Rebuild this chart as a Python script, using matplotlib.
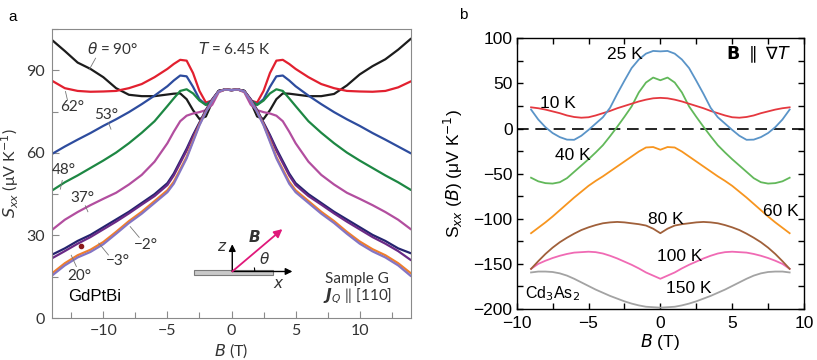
import numpy as np
import matplotlib
matplotlib.use("Agg")
import matplotlib.pyplot as plt
from matplotlib.patches import Rectangle, Arc
from matplotlib.ticker import MultipleLocator

# ---------------- panel a: GdPtBi, S_xx vs B at T = 6.45 K ----------------
B_a = [-14, -13, -12, -11, -10, -9, -8, -7, -6, -5, -4.5, -4, -3.5, -3, -2.5, -2,
       -1.5, -1, -0.5, 0, 0.5, 1, 1.5, 2, 2.5, 3, 3.5, 4, 4.5, 5, 6, 7, 8, 9,
       10, 11, 12, 13, 14]

s_90 = [101, 97, 92.8, 90.5, 87.5, 83.5, 81.1, 80.6, 80.6, 81.2, 81.5, 81.6, 79.5,
        75.5, 72.3, 73.2, 78.5, 82.5, 83, 82.8, 83, 82.5, 78.5, 73.2, 72.3, 75.5,
        79.5, 81.6, 81.5, 81.2, 80.6, 80.6, 81.4, 84.5, 88.5, 91.5, 94, 97.5, 101.5]
s_62 = [86.2, 83.5, 82.5, 82.2, 82.3, 82.5, 83.5, 85, 87.5, 90.5, 92.3, 93.8, 93.5,
        89, 82.5, 78.3, 79, 82.5, 83, 82.8, 83, 82.5, 79, 78.3, 82.5, 89, 93.5,
        93.8, 92.3, 90.5, 87.5, 85, 83.5, 82.5, 82.3, 82.2, 82.5, 83.8, 86]
s_53 = [59.6, 62.3, 64.8, 67.2, 69.8, 72.2, 74.8, 77.7, 80.8, 84.2, 86.3, 88.1, 87.8,
        84, 79.5, 77.5, 79.2, 82.5, 83, 82.8, 83, 82.5, 79.2, 77.5, 79.5, 84,
        87.8, 88.1, 86.3, 84.2, 80.8, 77.7, 74.8, 72.2, 69.8, 67.2, 64.8, 62.3, 59.8]
s_48 = [46.3, 49.3, 51.8, 54.5, 57.2, 60.1, 63.5, 67.3, 71.5, 77, 79.8, 82.5, 83.1,
        81.6, 79, 77.4, 79, 82.5, 83, 82.8, 83, 82.5, 79, 77.4, 79, 81.6, 83.1,
        82.5, 79.8, 77, 71.5, 67.3, 63.5, 60.1, 57.2, 54.5, 51.8, 49.3, 46.5]
s_37 = [32, 35.7, 38.5, 41, 43.3, 45.5, 48.5, 52, 56.8, 63.5, 67.7, 71.5, 73.5,
        74.3, 74.8, 75.5, 77.5, 82, 83, 82.8, 83, 82, 77.5, 75.5, 74.8, 74.3, 73.5,
        71.5, 67.7, 63.5, 56.8, 52, 48.5, 45.5, 43.3, 41, 38.5, 35.7, 32.2]
s_20 = [23, 25.3, 28, 30.2, 33, 35.8, 38.6, 41.8, 45, 49, 52.5, 57, 61.5, 66.5,
        71, 75.6, 79.5, 82.5, 83, 82.8, 83, 82.5, 79.5, 75.6, 71, 66.5, 61.5, 57,
        52.5, 49, 45, 41.8, 38.6, 35.8, 33, 30.2, 28, 25.3, 23.5]
s_10 = [21.7, 24.3, 27, 29.4, 32.2, 35, 38, 41.2, 44.3, 48.3, 51.8, 56.3, 60.8, 66,
        70.6, 75.3, 79.3, 82.4, 83, 82.8, 83, 82.4, 79.3, 75.3, 70.6, 66, 60.8,
        56.3, 51.8, 48.3, 44.3, 41.2, 38, 35, 32.2, 29.4, 27, 24.3, 21]
s_m2 = [16.2, 19.9, 22.8, 24.8, 27.6, 31.3, 35.2, 38.6, 42.5, 46.4, 49.5, 54, 58.5,
        64.5, 70.3, 75, 79, 82.3, 83, 82.8, 83, 82.3, 79, 75, 70.3, 64.5, 58.5,
        54, 49.5, 46.4, 42.5, 38.6, 35.2, 31.3, 27.8, 25, 22.8, 19.9, 16.2]
s_m3 = [15.4, 19.1, 22, 24, 26.8, 30.6, 34.5, 37.9, 41.8, 45.7, 48.8, 53.4, 58,
        64, 70, 74.8, 78.9, 82.3, 83, 82.8, 83, 82.3, 78.9, 74.8, 70, 64, 58, 53.4,
        48.8, 45.7, 41.8, 37.9, 34.5, 30.6, 27, 24.2, 22, 19.1, 15.2]

curves_a = [
    (s_90, "#1c1c1c"),
    (s_62, "#e2202f"),
    (s_53, "#2d4c9e"),
    (s_48, "#1d8743"),
    (s_37, "#b24e9f"),
    (s_20, "#25246f"),
    (s_10, "#6a2a86"),
    (s_m2, "#f07e2c"),
    (s_m3, "#8475c4"),
]

# ---------------- panel b: Cd3As2, S_xx(B) at several T ----------------
B_b = [-9, -8.5, -8, -7.5, -7, -6.5, -6, -5.5, -5, -4.5, -4, -3.5, -3, -2.5, -2,
       -1.5, -1, -0.5, 0, 0.5, 1, 1.5, 2, 2.5, 3, 3.5, 4, 4.5, 5, 5.5, 6, 6.5,
       7, 7.5, 8, 8.5, 9]

s_10K = [23.5, 22.5, 21, 19, 17, 14.5, 12.8, 12, 12.5, 14.5, 17, 19.5, 22.5, 25,
         27.5, 30, 32, 33.5, 34, 33.5, 32, 30, 27.5, 25, 22.5, 19.5, 17, 14.5,
         12.5, 12, 12.8, 14.5, 17, 19, 21, 22.5, 23.5]
s_25K = [21, 10, 1.5, -5, -9.5, -12.3, -12.5, -8, -1.5, 5.5, 12.5, 23, 38.5, 53,
         67, 76.5, 83, 86, 85.5, 86, 83, 76.5, 67, 53, 38.5, 23, 12.5, 5.5, -1.5,
         -8, -12.5, -12.3, -9.5, -5, 1.5, 10, 21]
s_40K = [-54.5, -58.5, -60.5, -61, -59.5, -55, -48, -41, -34, -26.5, -18.5, -8.5,
         2, 13, 24.5, 40, 51, 56.5, 53.5, 56.5, 51, 40, 24.5, 13, 2, -8.5, -18.5,
         -26.5, -34, -41, -48, -55, -59.5, -61, -60.5, -58.5, -54.5]
s_60K = [-116, -110, -104, -97.5, -90.5, -83.5, -76.5, -70, -63.5, -58, -53, -47.5,
         -42, -36.5, -31, -25.5, -21, -20.5, -23.5, -20.5, -21, -25.5, -31, -36.5,
         -42, -47.5, -53, -58, -63.5, -70, -76.5, -83.5, -90.5, -97.5, -104, -110,
         -116]
s_80K = [-155.5, -147, -139, -132, -126, -121, -116.5, -112.5, -109.5, -107, -105,
         -104, -103.5, -104, -105, -106, -107.5, -111, -116, -111, -107.5, -106,
         -105, -104, -103.5, -104, -105, -107, -109.5, -112.5, -116.5, -121, -126,
         -132, -139, -147, -155.5]
s_100K = [-155.5, -150, -146.5, -143.5, -141, -139, -137.5, -137, -136.5, -137,
          -138.5, -141, -144, -147.5, -151, -155, -159.5, -163, -166.5, -163,
          -159.5, -155, -151, -147.5, -144, -141, -138.5, -137, -136.5, -137,
          -137.5, -139, -141, -143.5, -146.5, -150, -155.5]
s_150K = [-159.5, -158.5, -158.5, -159, -160.5, -163, -166.5, -170.5, -174.5,
          -178.5, -182, -185.5, -188.5, -191.5, -194, -196, -197.5, -198, -198.5,
          -198, -197.5, -196, -194, -191.5, -188.5, -185.5, -182, -178.5, -174.5,
          -170.5, -166.5, -163, -160.5, -159, -158.5, -158.5, -159.5]

curves_b = [
    (s_150K, "#a3a3a3"),
    (s_100K, "#f06ab4"),
    (s_80K, "#a0603a"),
    (s_60K, "#f7951f"),
    (s_40K, "#62b85a"),
    (s_10K, "#e5383f"),
    (s_25K, "#5a94c8"),
]

FA = ["Lato", "DejaVu Sans"]
FB = ["Liberation Sans", "DejaVu Sans"]
GREY = "#8a8a8a"
TXT = "#333333"

fig = plt.figure(figsize=(8.17, 3.6), dpi=100)
fig.patch.set_facecolor("white")

# ---------------- panel a ----------------
ax = fig.add_axes([52 / 817, 1 - 318 / 360, (411 - 52) / 817, (318 - 29) / 360])
for vals, col in curves_a:
    ax.plot(B_a, vals, color=col, lw=1.6, solid_capstyle="round")

ax.set_xlim(-14, 14)
ax.set_ylim(0, 105)
ax.xaxis.set_major_locator(MultipleLocator(5))
ax.xaxis.set_minor_locator(MultipleLocator(2.5))
ax.yaxis.set_major_locator(MultipleLocator(30))
ax.yaxis.set_minor_locator(MultipleLocator(15))
ax.tick_params(which="both", direction="in", color=GREY, width=0.8,
               labelsize=11.5, labelcolor=TXT)
ax.tick_params(axis="x", pad=4.5)
ax.tick_params(axis="y", pad=5)
ax.tick_params(which="major", length=5)
ax.tick_params(which="minor", length=4)
for s in ax.spines.values():
    s.set_color(GREY)
    s.set_linewidth(0.8)
for lab in ax.get_xticklabels() + ax.get_yticklabels():
    lab.set_family(FA)
ax.set_xlabel("$B$ (T)", fontsize=11.5, color=TXT, family=FA, labelpad=2)
ax.set_ylabel(r"$S_{xx}$ (μV K$^{-1}$)", fontsize=11.5, color=TXT, family=FA,
              labelpad=4)

lbl = dict(fontsize=11, color=TXT, family=FA, ha="center", va="center")
ax.text(-9.3, 97.7, r"$\theta$ = 90°", **lbl)
ax.text(0.2, 97.7, r"$T$ = 6.45 K", **lbl)
ax.text(-12.4, 76.6, "62°", **lbl)
ax.text(-9.8, 73.8, "53°", **lbl)
ax.text(-13.1, 53.6, "48°", **lbl)
ax.text(-11.65, 43.5, "37°", **lbl)
ax.text(-11.9, 15.3, "20°", **lbl)
ax.text(-8.9, 20.7, "\u22123°", **lbl)
ax.text(-6.7, 26.5, "\u22122°", **lbl)
leaders = [((-10.6, 94.4), (-11.1, 90.2)), ((-12.8, 79.3), (-12.95, 82.3)),
           ((-9.6, 71.0), (-9.4, 68.6)), ((-13.2, 50.0), (-13.35, 46.8)),
           ((-11.4, 40.8), (-11.2, 38.6)), ((-12.1, 18.7), (-12.5, 22.8)),
           ((-9.6, 22.9), (-10.35, 27.2)), ((-7.2, 29.3), (-7.9, 33.2))]
for (x0, y0), (x1, y1) in leaders:
    ax.plot([x0, x1], [y0, y1], color="#777777", lw=0.6)
ax.plot(-11.7, 26.2, marker="o", ms=3, color="#8b1a1a")

ax.text(-10.7, 7.8, "GdPtBi", fontsize=12, color="black", family=FB,
        ha="center", va="center")
ax.text(9.8, 14.1, "Sample G", **lbl)
ax.text(9.8, 7.8, r"$\boldsymbol{J}_Q$ || [110]", **lbl)

# inset sketch: field direction relative to the sample
ax.add_patch(Rectangle((-2.93, 15.5), 6.17, 1.8, facecolor="#c9c9c9",
                       edgecolor="#7a7a7a", lw=0.8, zorder=5))
ax.annotate("", xy=(4.75, 16.9), xytext=(0.06, 16.9), zorder=6,
            arrowprops=dict(arrowstyle="-|>", color="black", lw=1.0,
                            mutation_scale=10, shrinkA=0, shrinkB=0))
ax.annotate("", xy=(0.06, 26.8), xytext=(0.06, 16.9), zorder=6,
            arrowprops=dict(arrowstyle="-|>", color="black", lw=1.0,
                            mutation_scale=10, shrinkA=0, shrinkB=0))
ax.annotate("", xy=(3.97, 32.3), xytext=(0.06, 16.9), zorder=6,
            arrowprops=dict(arrowstyle="-|>", color="#e0187a", lw=1.3,
                            mutation_scale=12, shrinkA=0, shrinkB=0))
ax.add_patch(Arc((0.06, 16.9), 2 * 1.75, 2 * 8.1, theta1=0, theta2=40,
                 color="black", lw=0.8, zorder=6))
ax.text(-0.7, 25.7, "$z$", **lbl)
ax.text(3.7, 12.4, "$x$", **lbl)
ax.text(1.76, 29.6, r"$\boldsymbol{B}$", **lbl)
ax.text(2.6, 21.3, r"$\theta$", **lbl)

fig.text(13 / 817, 1 - 17 / 360, "a", fontsize=11, family=FB, ha="center",
         va="center")

# ---------------- panel b ----------------
bx = fig.add_axes([516.7 / 817, 1 - 309 / 360, (804 - 516.7) / 817,
                   (309 - 38.3) / 360])
bx.axhline(0, color="black", lw=1.2, dashes=(7, 4), zorder=1)
for vals, col in curves_b:
    bx.plot(B_b, vals, color=col, lw=1.3, zorder=2)

bx.set_xlim(-10, 10)
bx.set_ylim(-200, 100)
bx.xaxis.set_major_locator(MultipleLocator(5))
bx.xaxis.set_minor_locator(MultipleLocator(2.5))
bx.yaxis.set_major_locator(MultipleLocator(50))
bx.yaxis.set_minor_locator(MultipleLocator(25))
bx.tick_params(which="both", direction="in", top=True, right=True,
               length=4, width=1.0, labelsize=12.5)
bx.tick_params(axis="x", pad=5)
bx.tick_params(axis="y", pad=3)
for s in bx.spines.values():
    s.set_linewidth(1.0)
for lab in bx.get_xticklabels() + bx.get_yticklabels():
    lab.set_family(FB)
bx.set_xlabel("$B$ (T)", fontsize=12.5, family=FB, labelpad=1)
bx.set_ylabel(r"S$_{xx}$ ($B$) (μV K$^{-1}$)", fontsize=12.5, family=FB,
              labelpad=6)

bl = dict(fontsize=12.5, family=FB, ha="center", va="center")
bx.text(-2.45, 82.3, "25 K", **bl)
bx.text(-7.16, 27.2, "10 K", **bl)
bx.text(-6.06, -30.1, "40 K", **bl)
bx.text(8.37, -91.4, "60 K", **bl)
bx.text(0.39, -100.3, "80 K", **bl)
bx.text(1.32, -142, "100 K", **bl)
bx.text(1.95, -177.5, "150 K", **bl)
bx.text(-7.5, -182.6, "Cd$_3$As$_2$", fontsize=11.5, family=FB, ha="center",
        va="center")
bx.text(9.1, 81.5, r"$\mathbf{B}\ \parallel\ \nabla T$", fontsize=12.5,
        ha="right", va="center")

fig.text(463 / 817, 1 - 15 / 360, "b", fontsize=11, family=FB, ha="center",
         va="center")

fig.savefig("out.png", dpi=100, facecolor="white")
